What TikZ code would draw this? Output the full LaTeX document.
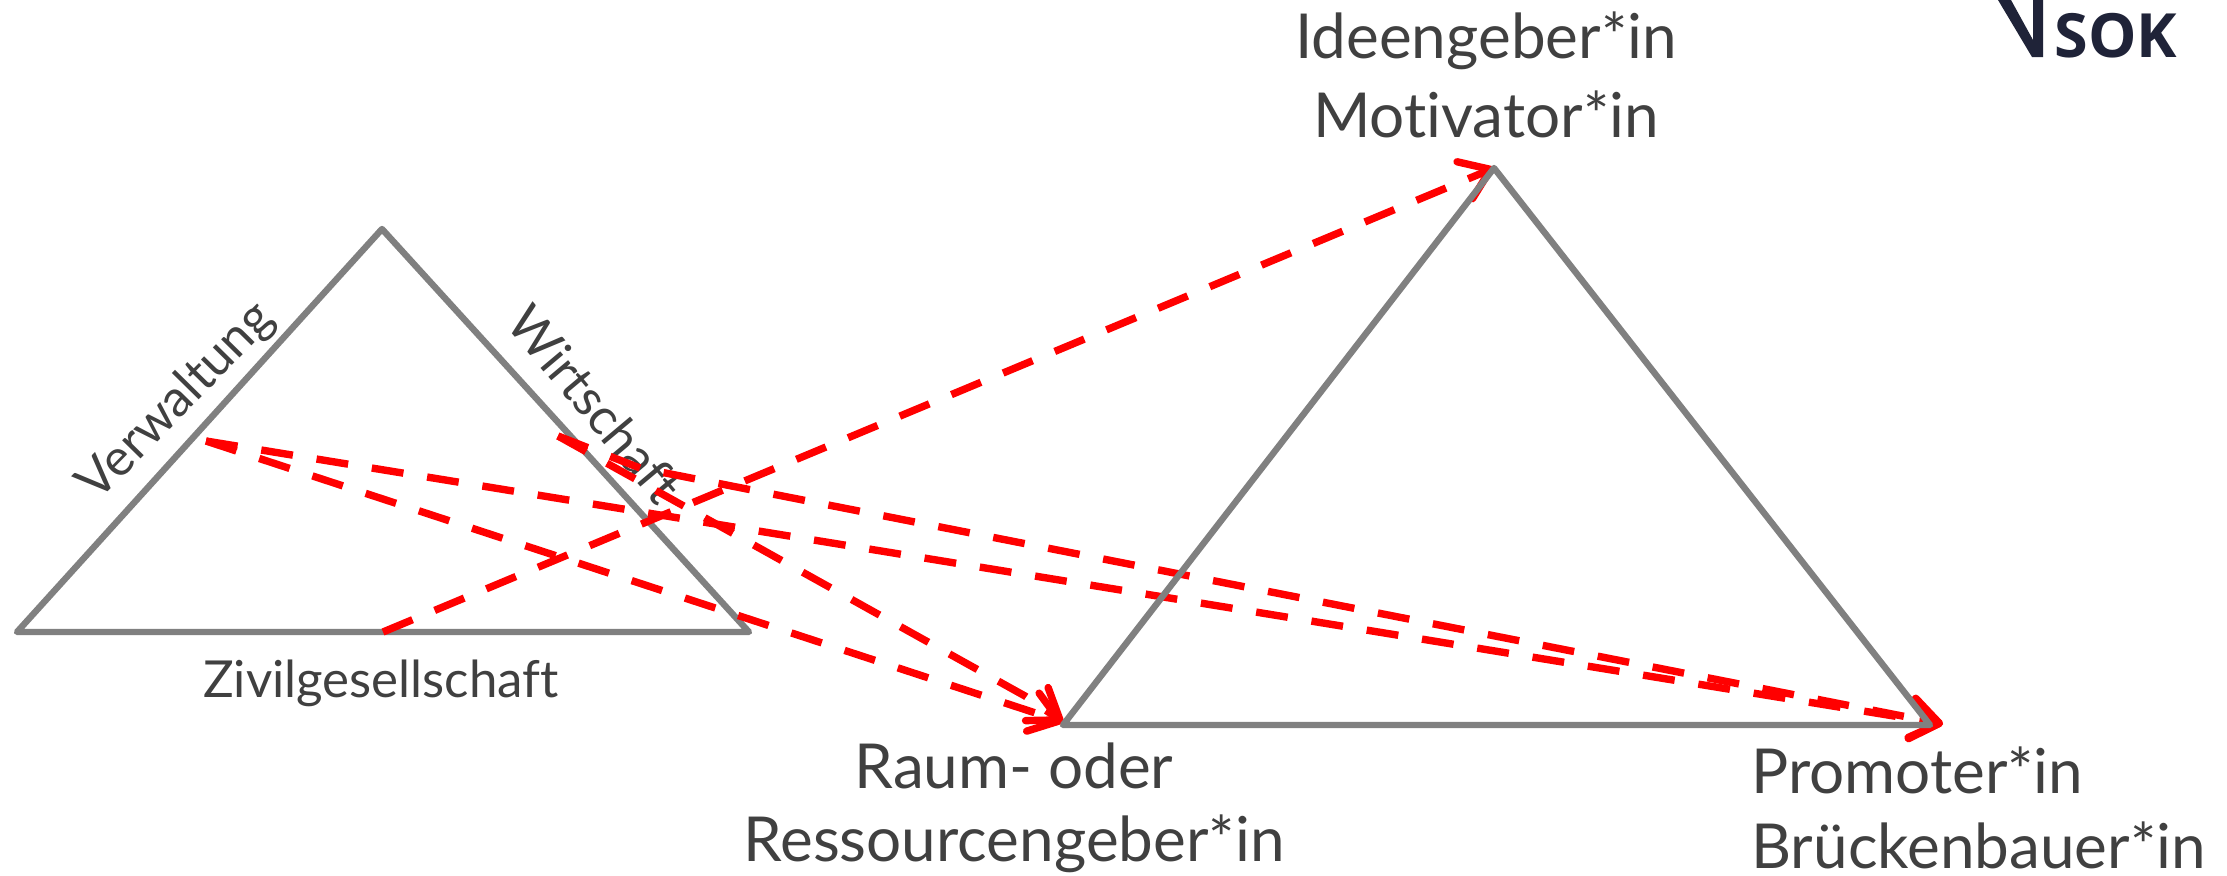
\documentclass[tikz,border=0pt]{standalone}
\usepackage{fontspec}
\setmainfont{Lato}[Ligatures=NoCommon]
\newfontfamily\logofont{Open Sans}
\usetikzlibrary{arrows.meta}
\definecolor{txt}{HTML}{404040}
\definecolor{tri}{HTML}{808080}
\definecolor{navy}{HTML}{1F2338}
\tikzset{
  x=0.5pt,y=-0.5pt,
  triline/.style={draw=tri,line width=3.2pt,line join=round,line cap=round},
  redarrow/.style={draw=red,line width=3.7pt,dash pattern=on 16pt off 12pt,
    -{Straight Barb[length=14pt,width=20pt,round,line width=3.7pt,sep=0pt]}},
  biglabel/.style={text=txt,font=\fontsize{31}{31}\selectfont,inner sep=0pt,anchor=base},
  smalllabel/.style={text=txt,font=\fontsize{25.5}{25.5}\selectfont,inner sep=0pt,anchor=base},
}
\begin{document}
\begin{tikzpicture}
\useasboundingbox (0,0) rectangle (2227,875);
\fill[white] (0,0) rectangle (2227,875);
\coordinate (la) at (382,229);
\coordinate (ll) at (17,632);
\coordinate (lr) at (749,632);
\coordinate (lm) at (383,632);
\coordinate (ra) at (1494,168);
\coordinate (rl) at (1063,725);
\coordinate (rr) at (1930,725);
\coordinate (vw) at (206,441);
\coordinate (ws) at (558,436);
\coordinate (tr) at (1943,724);
\coordinate (tl) at (1063,722);
\coordinate (kink) at (1025,696);
\coordinate (ekink) at (640,468);
\draw[triline] (la) -- (ll) -- (lr) -- cycle;
\node[smalllabel,rotate=45.5] (verw) at (187,412) {Verwaltung};
\node[smalllabel,rotate=-50] (wirt) at (581,416) {Wirtschaft};
\node[smalllabel] (ziv) at (381,697) {Zivilgesellschaft};
\draw[redarrow] (lm) -- (ra);
\draw[redarrow] (vw) -- (tl);
\draw[redarrow] (vw) -- (tr);
\draw[redarrow] (ws) -- (kink) -- (tl);
\draw[redarrow] (ws) -- (ekink) -- (tr);
\draw[triline] (ra) -- (rl) -- (rr) -- cycle;
\node[biglabel] (ideen) at (1486,58) {Ideengeber*in};
\node[biglabel] (moti) at (1486,137) {Motivator*in};
\node[biglabel] (raum) at (1014,788) {Raum- oder};
\node[biglabel] (ress) at (1014,861) {Ressourcengeber*in};
\node[biglabel,anchor=base west] (prom) at (1751,793) {Promoter*in};
\node[biglabel,anchor=base west] (bruck) at (1751,868) {Brückenbauer*in};
\node[text=navy,font=\logofont\bfseries\fontsize{30.5}{30.5}\selectfont,inner sep=0pt,anchor=base west] (sok) at (2054,57) {SOK};
\fill[navy] (1998,0) -- (2011,0) -- (2033,40) -- (2033,0) -- (2043,0) -- (2043,57) -- (2032,57) -- cycle;
\end{tikzpicture}
\end{document}
